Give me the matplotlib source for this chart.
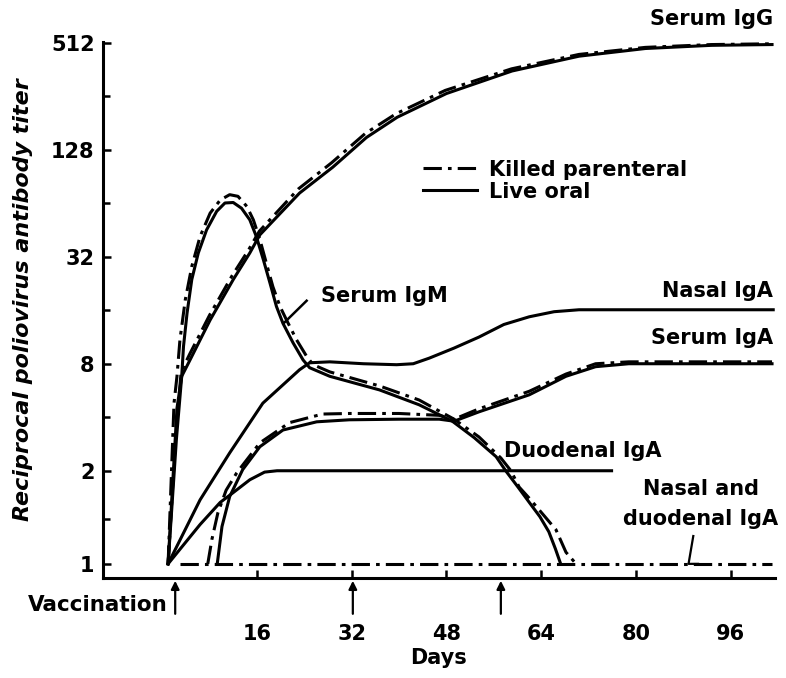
import numpy as np
import matplotlib
matplotlib.use('Agg')
import matplotlib.pyplot as plt
from matplotlib.lines import Line2D

# --- ДАННЫЕ (дни после вакцинации, обратный титр антител) ---

# Serum IgG
igg_live_days = [1, 2.4, 3.3, 4.7, 8.1, 12, 14.8, 16.5, 23.2, 28.8, 34.5, 39.7, 48, 59.1, 70.4, 81.6, 92.8, 103]
igg_live_titer = [1, 3, 6.8, 8.4, 14.1, 23.8, 33.6, 42.5, 73, 102, 150, 195, 265, 355, 430, 475, 495, 500]
igg_killed_days = [1, 2.3, 3.2, 4.6, 8.0, 11.8, 14.6, 16.4, 23.0, 28.6, 34.3, 39.5, 47.8, 59.0, 70.4, 81.6, 92.8, 103]
igg_killed_titer = [1, 3.2, 7.2, 9, 15, 25, 35, 44.5, 77, 108, 158, 204, 276, 365, 440, 482, 500, 505]

# Serum IgM
igm_live_days = [1, 2.5, 3.3, 3.6, 4.2, 5.0, 6.1, 7.5, 9.2, 10.6, 12.0, 13.4, 14.8, 15.9, 17.1, 18.2, 19.3,
                 20.4, 22.1, 23.8, 24.9, 28.3, 36.7, 43.4, 49, 52.7, 56.4, 58.1, 60.2, 62, 63.8, 65.3, 66.4, 67.3]
igm_live_titer = [1, 4.5, 6.8, 10, 15.4, 23.8, 33.6, 45.3, 57.6, 64.2, 64.6, 60, 51.6, 41.6, 30.7, 22.8, 16.8,
                  13.5, 10.5, 8.4, 7.6, 6.8, 5.7, 4.7, 3.8, 3.07, 2.4, 1.99, 1.76, 1.58, 1.42, 1.27, 1.12, 1]
igm_killed_days = [1, 2.0, 2.5, 3.0, 3.9, 5.0, 6.4, 8.1, 9.8, 11.4, 12.8, 14.3, 15.4, 16.5, 17.6, 18.7, 19.9,
                   21.0, 22.7, 24.4, 25.5, 28.3, 36.7, 43.4, 49.3, 53.5, 57.2, 58.9, 60.3, 62.0, 63.6, 66.5, 68.2, 69.9]
igm_killed_titer = [1, 4.8, 6.8, 10.9, 18.3, 28.2, 41.6, 56.3, 66.7, 71.5, 70, 61.4, 51.6, 40, 29.4, 21.7, 16.8,
                    14.1, 10.9, 8.8, 7.9, 7.2, 6.0, 5.0, 3.9, 3.1, 2.36, 2.0, 1.77, 1.63, 1.5, 1.29, 1.09, 1]

# Nasal IgA (только живая оральная)
nasal_days = [1, 6.4, 11.4, 17, 23.2, 24.9, 28.3, 34, 39.6, 42.4, 45.1, 49.3, 53.5, 57.7, 62, 66.2, 70.4, 103.2]
nasal_titer = [1, 1.61, 2.52, 4.8, 7.4, 8.1, 8.2, 8.0, 7.9, 8.0, 8.6, 9.8, 11.3, 13.3, 14.7, 15.7, 16.1, 16.1]

# Duodenal IgA (только живая оральная)
duod_days = [1, 6.4, 9.8, 12, 14.8, 17.3, 19.4, 75.9]
duod_titer = [1, 1.34, 1.58, 1.70, 1.87, 1.98, 2.0, 2.0]

# Serum IgA
iga_live_days = [9.3, 10.1, 11.4, 13.6, 16.5, 20.4, 26.1, 31.6, 40, 46.8, 49.3, 53.5, 62, 68.2, 73.2, 78.8, 103]
iga_live_titer = [1, 1.32, 1.65, 2.03, 2.73, 3.39, 3.77, 3.87, 3.9, 3.9, 3.8, 4.29, 5.35, 6.8, 7.7, 8.0, 8.0]
iga_killed_days = [7.7, 8.4, 9.4, 10.8, 12.6, 16.5, 21.5, 27.1, 31.6, 40, 46.8, 49.3, 53.5, 62, 68.2, 73.2, 78.8, 103]
iga_killed_titer = [1, 1.2, 1.46, 1.73, 1.97, 2.87, 3.73, 4.17, 4.2, 4.2, 4.1, 3.9, 4.46, 5.6, 7.0, 8.0, 8.2, 8.2]

# Nasal and duodenal IgA после убитой вакцины - на уровне 1
base_days = [3, 103]
base_titer = [1, 1]

x_ticks = [16, 32, 48, 64, 80, 96]
y_ticks = [1, 2, 8, 32, 128, 512]
y_minor = [1.4, 4, 16, 64, 256]
arrow_days = [2.2, 32.2, 57.2]

# --- ШКАЛА ПО Y ---
# в оригинале участок 1..2 растянут относительно остальных удвоений
LOG_KNOTS = [-1, 0, 1, 10]
POS_KNOTS = [-1.74, 0, 1.74, 10.74]


def fwd(v):
    v = np.clip(np.asarray(v, dtype=float), 1e-6, None)
    return np.interp(np.log2(v), LOG_KNOTS, POS_KNOTS)


def inv(p):
    return 2.0 ** np.interp(p, POS_KNOTS, LOG_KNOTS)


plt.rcParams['font.family'] = ['DejaVu Sans']
FS = 15
DASH = (0, (6, 2, 1.2, 2))
LW = 2.2

fig = plt.figure(figsize=(7.86, 6.78), dpi=100)
ax = fig.add_axes([0.131, 0.1475, 0.855, 0.7906])
ax.set_yscale('function', functions=(fwd, inv))

ax.plot(igg_live_days, igg_live_titer, 'k-', lw=LW)
ax.plot(igg_killed_days, igg_killed_titer, color='k', ls=DASH, lw=LW)
ax.plot(igm_live_days, igm_live_titer, 'k-', lw=LW)
ax.plot(igm_killed_days, igm_killed_titer, color='k', ls=DASH, lw=LW)
ax.plot(nasal_days, nasal_titer, 'k-', lw=LW)
ax.plot(duod_days, duod_titer, 'k-', lw=LW)
ax.plot(iga_live_days, iga_live_titer, 'k-', lw=LW)
ax.plot(iga_killed_days, iga_killed_titer, color='k', ls=DASH, lw=LW)
ax.plot(base_days, base_titer, color='k', ls=DASH, lw=LW)

ax.set_xlim(-10, 103.5)
ax.set_ylim(0.9, 517)

# оси как на рисунке: только левая и нижняя
for s in ['top', 'right']:
    ax.spines[s].set_visible(False)
for s in ['left', 'bottom']:
    ax.spines[s].set_linewidth(2.2)

ax.set_xticks(x_ticks)
ax.set_xticklabels([str(t) for t in x_ticks], fontsize=FS, fontweight='bold')
ax.set_yticks(y_ticks)
ax.set_yticklabels([str(t) for t in y_ticks], fontsize=FS, fontweight='bold')
ax.set_yticks(y_minor, minor=True)
ax.tick_params(axis='both', which='both', direction='in', width=1.8)
ax.tick_params(axis='both', which='major', length=6)
ax.tick_params(axis='y', which='minor', length=5)
ax.tick_params(axis='x', pad=33)
ax.tick_params(axis='y', pad=6)

ax.set_xlabel('Days', fontsize=FS, fontweight='bold', labelpad=3)
ax.set_ylabel('Reciprocal poliovirus antibody titer', fontsize=16, fontweight='bold',
              fontstyle='italic')
ax.yaxis.set_label_coords(-0.104, 0.52)

# стрелки вакцинации под осью
trans = ax.get_xaxis_transform()
for d in arrow_days:
    ax.annotate('', xy=(d, 0.0), xytext=(d, -0.072), xycoords=trans, textcoords=trans,
                arrowprops=dict(arrowstyle='-|>', color='k', lw=1.6, mutation_scale=12),
                annotation_clip=False)
ax.text(arrow_days[0] - 1.2, -0.05, 'Vaccination', transform=trans, ha='right', va='center',
        fontsize=FS + 0.5, fontweight='bold')

# подписи кривых
kw = dict(fontsize=FS, fontweight='bold', color='k')
ax.text(103.2, 700, 'Serum IgG', ha='right', va='center', **kw)
ax.text(103.2, 20.6, 'Nasal IgA', ha='right', va='center', **kw)
ax.text(103.2, 11.1, 'Serum IgA', ha='right', va='center', **kw)
ax.text(26.8, 19.3, 'Serum IgM', ha='left', va='center', **kw)
ax.text(57.7, 2.59, 'Duodenal IgA', ha='left', va='center', **kw)
ax.text(91, 1.75, 'Nasal and', ha='center', va='center', **kw)
ax.text(91, 1.40, 'duodenal IgA', ha='center', va='center', **kw)
ax.plot([24.4, 20.6], [18.1, 13.6], 'k-', lw=1.8)
ax.plot([89.7, 88.9, 90.5], [1.23, 1.0, 1.0], 'k-', lw=1.6)

handles = [Line2D([], [], color='k', ls=DASH, lw=LW), Line2D([], [], color='k', ls='-', lw=LW)]
ax.legend(handles, ['Killed parenteral', 'Live oral'], loc='upper left', bbox_to_anchor=(0.46, 0.80),
          frameon=False, handlelength=2.6, handletextpad=0.6, labelspacing=0.1, borderpad=0,
          prop=dict(size=FS, weight='bold'))

fig.savefig('out.png', dpi=100, facecolor='white')
